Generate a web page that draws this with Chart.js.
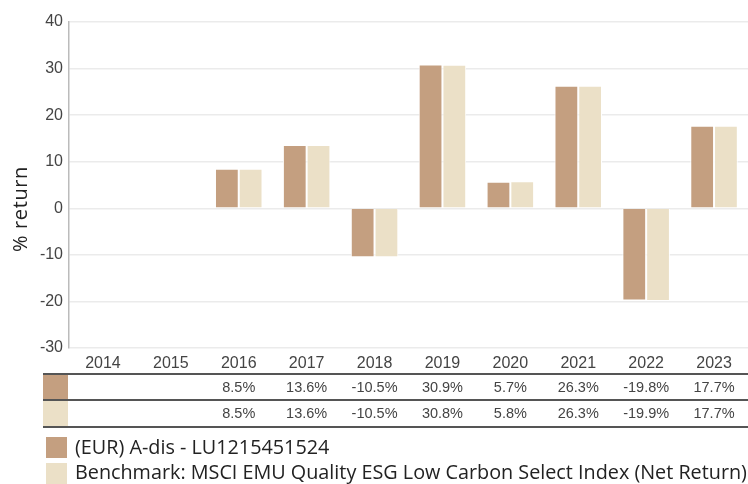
<!DOCTYPE html>
<html>
<head>
<meta charset="utf-8">
<script src="https://cdn.jsdelivr.net/npm/chart.js@4"></script>
<style>
  html, body { margin: 0; padding: 0; background: #fff; }
  #wrap { width: 748px; height: 484px; position: relative; }
</style>
</head>
<body>
<div id="wrap"><canvas id="chart" width="748" height="484"></canvas></div>
<script>
// chart data
const years = ['2014', '2015', '2016', '2017', '2018', '2019', '2020', '2021', '2022', '2023'];
const fundReturns = [null, null, 8.5, 13.6, -10.5, 30.9, 5.7, 26.3, -19.8, 17.7];
const benchReturns = [null, null, 8.5, 13.6, -10.5, 30.8, 5.8, 26.3, -19.9, 17.7];
const fundLabel = '(EUR) A-dis - LU1215451524';
const benchLabel = 'Benchmark: MSCI EMU Quality ESG Low Carbon Select Index (Net Return)';
const yTicks = [-30, -20, -10, 0, 10, 20, 30, 40];
const yTitle = '% return';

const fundColor = '#c49f80';
const benchColor = '#ebe0c7';
const textColor = '#444';

const fmt = v => (v === null ? '' : v.toFixed(1) + '%');

// y title, table under the axis + legend
const tableLegendPlugin = {
    id: 'tableLegend',
    afterDraw(chart) {
        const ctx = chart.ctx;
        const xScale = chart.scales.x;
        const right = chart.width;
        ctx.save();

        // y axis title
        ctx.save();
        ctx.translate(27, 209);
        ctx.rotate(-Math.PI / 2);
        ctx.fillStyle = '#222';
        ctx.font = '20px "Open Sans", sans-serif';
        ctx.letterSpacing = '0.6px';
        ctx.textAlign = 'center';
        ctx.textBaseline = 'alphabetic';
        ctx.fillText(yTitle, 0, 0);
        ctx.restore();

        // swatches in table
        ctx.fillStyle = fundColor;
        ctx.fillRect(43, 375, 25, 25);
        ctx.fillStyle = benchColor;
        ctx.fillRect(43, 401, 25, 26);

        // table lines
        ctx.strokeStyle = '#555';
        ctx.lineWidth = 2;
        [374, 400, 427].forEach(y => {
            ctx.beginPath();
            ctx.moveTo(43, y);
            ctx.lineTo(right, y);
            ctx.stroke();
        });

        // values
        ctx.fillStyle = textColor;
        ctx.font = '14.5px "Liberation Sans", Arial, sans-serif';
        ctx.textAlign = 'center';
        ctx.textBaseline = 'middle';
        years.forEach((yr, i) => {
            const x = xScale.getPixelForValue(i);
            ctx.fillText(fmt(fundReturns[i]), x, 388);
            ctx.fillText(fmt(benchReturns[i]), x, 414);
        });

        // legend
        ctx.fillStyle = fundColor;
        ctx.fillRect(46, 437, 21, 21);
        ctx.fillStyle = benchColor;
        ctx.fillRect(46, 463, 21, 21);
        ctx.fillStyle = '#222';
        ctx.font = '19.8px "Open Sans", sans-serif';
        ctx.textAlign = 'left';
        ctx.fillText(fundLabel, 75, 448);
        ctx.fillText(benchLabel, 75, 473);

        ctx.restore();
    }
};

new Chart(document.getElementById('chart').getContext('2d'), {
    type: 'bar',
    data: {
        labels: years,
        datasets: [{
            label: fundLabel,
            data: fundReturns,
            backgroundColor: fundColor,
            borderColor: '#ffffff',
            borderWidth: 1,
            categoryPercentage: 0.7,
            barPercentage: 1.0
        }, {
            label: benchLabel,
            data: benchReturns,
            backgroundColor: benchColor,
            borderColor: '#ffffff',
            borderWidth: 1,
            categoryPercentage: 0.7,
            barPercentage: 1.0
        }]
    },
    options: {
        responsive: false,
        animation: false,
        layout: { padding: { top: 22, right: 0, bottom: 110, left: 0 } },
        plugins: {
            legend: { display: false },
            tooltip: { enabled: false }
        },
        scales: {
            x: {
                grid: { display: false },
                border: { display: false },
                ticks: {
                    color: textColor,
                    font: { family: '"Liberation Sans", Arial, sans-serif', size: 16 },
                    maxRotation: 0,
                    padding: -2
                },
                afterFit: scale => { scale.height = 26; }
            },
            y: {
                min: -30,
                max: 40,
                afterBuildTicks: scale => { scale.ticks = yTicks.map(v => ({ value: v })); },
                grid: { color: '#ebebeb', lineWidth: 1.5, drawTicks: false },
                border: { display: true, color: '#bbb', width: 1.5 },
                ticks: {
                    color: textColor,
                    font: { family: '"Liberation Sans", Arial, sans-serif', size: 16 },
                    padding: 6
                },
                afterFit: scale => { scale.width = 69; }
            }
        }
    },
    plugins: [tableLegendPlugin]
});
</script>
</body>
</html>
